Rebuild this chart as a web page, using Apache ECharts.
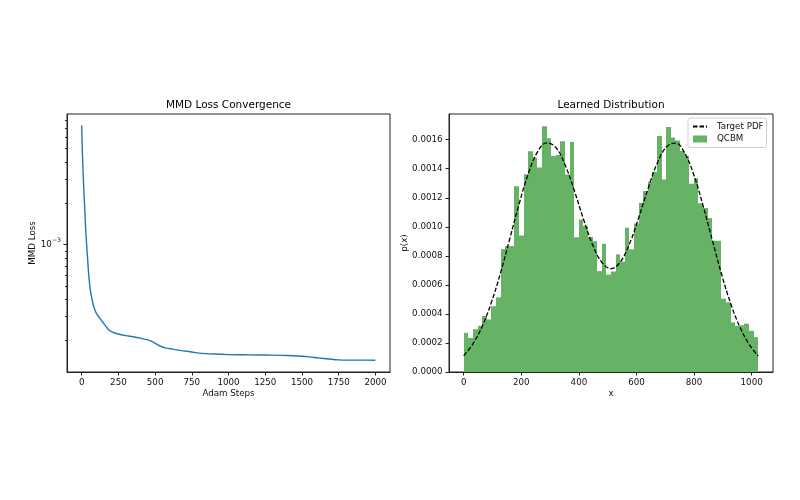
<!DOCTYPE html>
<html>
<head>
<meta charset="utf-8">
<script src="https://cdn.jsdelivr.net/npm/echarts@6/dist/echarts.min.js"></script>
<style>html,body{margin:0;padding:0;background:#fff}#c{width:800px;height:500px}</style>
</head>
<body>
<div id="c"></div>
<script>
// ---- Left panel: MMD loss ----
const lossSteps = [0, 4, 8, 12, 16, 20, 25, 30, 35, 40, 45, 50, 60, 70, 80, 90, 100, 120, 140, 160, 180, 200, 225, 250, 300, 350, 400, 450, 480, 510, 540, 570, 620, 680, 750, 800, 900, 1000, 1100, 1200, 1300, 1400, 1500, 1550, 1600, 1650, 1700, 1750, 1800, 1900, 1999];
const lossValues = [7.35e-3, 5.0e-3, 3.8e-3, 2.9e-3, 2.3e-3, 1.9e-3, 1.45e-3, 1.15e-3, 9.5e-4, 8.0e-4, 6.6e-4, 5.7e-4, 4.6e-4, 4.0e-4, 3.6e-4, 3.35e-4, 3.15e-4, 2.95e-4, 2.75e-4, 2.58e-4, 2.42e-4, 2.33e-4, 2.27e-4, 2.23e-4, 2.17e-4, 2.13e-4, 2.08e-4, 2.02e-4, 1.96e-4, 1.88e-4, 1.81e-4, 1.77e-4, 1.73e-4, 1.69e-4, 1.65e-4, 1.62e-4, 1.595e-4, 1.58e-4, 1.575e-4, 1.57e-4, 1.565e-4, 1.555e-4, 1.535e-4, 1.52e-4, 1.5e-4, 1.48e-4, 1.46e-4, 1.445e-4, 1.44e-4, 1.44e-4, 1.437e-4];
const stepTicks = [0, 250, 500, 750, 1000, 1250, 1500, 1750, 2000];
const logMajorTicks = [1e-3];
const logMinorTicks = [2e-4, 3e-4, 4e-4, 5e-4, 6e-4, 7e-4, 8e-4, 9e-4, 2e-3, 3e-3, 4e-3, 5e-3, 6e-3, 7e-3, 8e-3, 9e-3];

// ---- Right panel: learned distribution ----
const binCount = 64;
const xDataMax = 1023;
const qcbmDensity = [
  0.000270, 0.000235, 0.000295, 0.000318, 0.000386, 0.000362, 0.000453, 0.000514,
  0.000846, 0.000867, 0.000868, 0.001279, 0.000940, 0.001362, 0.001521, 0.001475,
  0.001409, 0.001693, 0.001610, 0.001487, 0.001495, 0.001590, 0.001360, 0.001585,
  0.000928, 0.001050, 0.001005, 0.000930, 0.000901, 0.000695, 0.000883, 0.000671,
  0.000692, 0.000810, 0.000760, 0.000994, 0.000845, 0.001023, 0.001165, 0.001246,
  0.001310, 0.001380, 0.001626, 0.001326, 0.001687, 0.001615, 0.001595, 0.001523,
  0.001487, 0.001297, 0.001335, 0.001162, 0.001130, 0.001060, 0.000904, 0.000904,
  0.000505, 0.000480, 0.000342, 0.000318, 0.000322, 0.000333, 0.000283, 0.000240
];
const pdfX = [0, 32, 64, 96, 128, 160, 192, 224, 256, 288, 320, 352, 384, 416, 448, 480, 512, 544, 576, 608, 640, 672, 704, 736, 768, 800, 832, 864, 896, 928, 960, 992, 1023];
const pdfY = [0.000112, 0.000194, 0.000314, 0.000479, 0.000684, 0.000918, 0.001155, 0.001365, 0.001514, 0.001578, 0.001546, 0.001427, 0.001250, 0.001052, 0.000875, 0.000754, 0.000712, 0.000759, 0.000884, 0.001064, 0.001262, 0.001437, 0.001550, 0.001577, 0.001506, 0.001353, 0.001141, 0.000903, 0.000670, 0.000467, 0.000306, 0.000188, 0.000110];
const xTicks = [0, 200, 400, 600, 800, 1000];
const densityTicks = [0, 0.0002, 0.0004, 0.0006, 0.0008, 0.0010, 0.0012, 0.0014, 0.0016];

const FONT = 'DejaVu Sans';
const AX = '#222';
const TICKFS = 8.7;

const lossData = lossSteps.map((s, i) => [s, lossValues[i]]);
const binW = xDataMax / binCount;
const histData = qcbmDensity.map((v, i) => [i * binW, (i + 1) * binW, v]);
const pdfData = pdfX.map((x, i) => [x, pdfY[i]]);

const baseAxisLine = { show: true, onZero: false, lineStyle: { color: AX, width: 1 } };
const labelStyle = { color: '#111', fontFamily: FONT, fontSize: TICKFS };

const chart = echarts.init(document.getElementById('c'), null, { renderer: 'canvas' });
chart.setOption({
  animation: false,
  backgroundColor: '#fff',
  textStyle: { fontFamily: FONT },
  title: [
    { text: 'MMD Loss Convergence', left: 228.5, top: 99.5, textAlign: 'center', padding: 0,
      textStyle: { fontFamily: FONT, fontSize: 10.5, fontWeight: 'normal', color: '#000' } },
    { text: 'Learned Distribution', left: 611, top: 99.5, textAlign: 'center', padding: 0,
      textStyle: { fontFamily: FONT, fontSize: 10.5, fontWeight: 'normal', color: '#000' } }
  ],
  legend: {
    left: 688, top: 118, orient: 'vertical',
    itemWidth: 14, itemHeight: 7, itemGap: 3.5,
    padding: [4, 3, 4, 4],
    backgroundColor: 'rgba(255,255,255,0.8)', borderColor: '#d0d0d0', borderWidth: 1, borderRadius: 2,
    textStyle: { fontFamily: FONT, fontSize: TICKFS, color: '#111', padding: [0, 0, 0, 5] },
    data: [
      { name: 'Target PDF', itemStyle: { opacity: 0 } },
      { name: 'QCBM', icon: 'rect' }
    ]
  },
  grid: [
    { left: 67, top: 114, width: 323, height: 258, show: true, borderColor: AX, borderWidth: 1, backgroundColor: 'transparent', containLabel: false, outerBoundsMode: 'none' },
    { left: 449, top: 114, width: 324, height: 258, show: true, borderColor: AX, borderWidth: 1, backgroundColor: 'transparent', containLabel: false, outerBoundsMode: 'none' }
  ],
  xAxis: [
    { gridIndex: 0, type: 'value', min: -99.95, max: 2098.95,
      axisLine: baseAxisLine, splitLine: { show: false },
      axisTick: { show: true, length: 3.5, lineStyle: { color: AX }, customValues: stepTicks },
      axisLabel: Object.assign({ margin: 6, customValues: stepTicks, formatter: v => String(v) }, labelStyle),
      name: 'Adam Steps', nameLocation: 'middle', nameGap: 17.5, nameMoveOverlap: false,
      nameTextStyle: { fontFamily: FONT, fontSize: TICKFS, color: '#111' } },
    { gridIndex: 1, type: 'value', min: -51.15, max: 1074.15,
      axisLine: baseAxisLine, splitLine: { show: false },
      axisTick: { show: true, length: 3.5, lineStyle: { color: AX }, customValues: xTicks },
      axisLabel: Object.assign({ margin: 6, customValues: xTicks, formatter: v => String(v) }, labelStyle),
      name: 'x', nameLocation: 'middle', nameGap: 17.5, nameMoveOverlap: false,
      nameTextStyle: { fontFamily: FONT, fontSize: TICKFS, color: '#111' } }
  ],
  yAxis: [
    { gridIndex: 0, type: 'log', logBase: 10, min: 1.18e-4, max: 8.92e-3, position: 'left', offset: 0,
      axisLine: baseAxisLine, splitLine: { show: false }, minorTick: { show: false },
      axisTick: { show: true, length: 3.5, lineStyle: { color: AX }, customValues: logMajorTicks },
      axisLabel: { margin: 6, customValues: logMajorTicks, color: '#111', fontFamily: FONT,
        formatter: () => '{b|10}{s|\u22123}',
        rich: { b: { fontSize: TICKFS, fontFamily: FONT, color: '#111', lineHeight: 14 },
                s: { fontSize: 6.2, fontFamily: FONT, color: '#111', lineHeight: 8, verticalAlign: 'top' } } },
      name: 'MMD Loss', nameLocation: 'middle', nameGap: 30, nameMoveOverlap: false,
      nameTextStyle: { fontFamily: FONT, fontSize: TICKFS, color: '#111' } },
    { gridIndex: 0, type: 'log', logBase: 10, min: 1.18e-4, max: 8.92e-3, position: 'left', offset: 0,
      axisLine: { show: false, onZero: false }, splitLine: { show: false }, axisLabel: { show: false },
      axisTick: { show: true, length: 2, lineStyle: { color: AX }, customValues: logMinorTicks } },
    { gridIndex: 1, type: 'value', min: 0, max: 0.001777,
      axisLine: baseAxisLine, splitLine: { show: false },
      axisTick: { show: true, length: 3.5, lineStyle: { color: AX }, customValues: densityTicks },
      axisLabel: Object.assign({ margin: 6.5, customValues: densityTicks, formatter: v => v.toFixed(4) }, labelStyle),
      name: 'p(x)', nameLocation: 'middle', nameGap: 40, nameMoveOverlap: false,
      nameTextStyle: { fontFamily: FONT, fontSize: TICKFS, color: '#111' } }
  ],
  series: [
    { name: 'MMD', type: 'line', xAxisIndex: 0, yAxisIndex: 0, data: lossData,
      symbol: 'none', smooth: 0.3, lineStyle: { color: '#1f77b4', width: 1.4 }, z: 3 },
    { name: 'QCBM', type: 'custom', xAxisIndex: 1, yAxisIndex: 2, data: histData,
      encode: { x: [0, 1], y: 2 },
      itemStyle: { color: '#66b366' },
      renderItem: function (params, api) {
        const p0 = api.coord([api.value(0), 0]);
        const p1 = api.coord([api.value(1), api.value(2)]);
        const xa = Math.round(p0[0]), xb = Math.round(p1[0]);
        return { type: 'rect',
          shape: { x: xa, y: p1[1], width: xb - xa, height: p0[1] - p1[1] },
          style: { fill: '#66b366' } };
      }, z: 2 },
    { name: 'Target PDF', type: 'line', xAxisIndex: 1, yAxisIndex: 2, data: pdfData,
      symbol: 'none', smooth: 0.4, itemStyle: { color: '#000' },
      lineStyle: { color: '#000', width: 1.3, type: [4.5, 2] }, z: 4 }
  ]
});
</script>
</body>
</html>
